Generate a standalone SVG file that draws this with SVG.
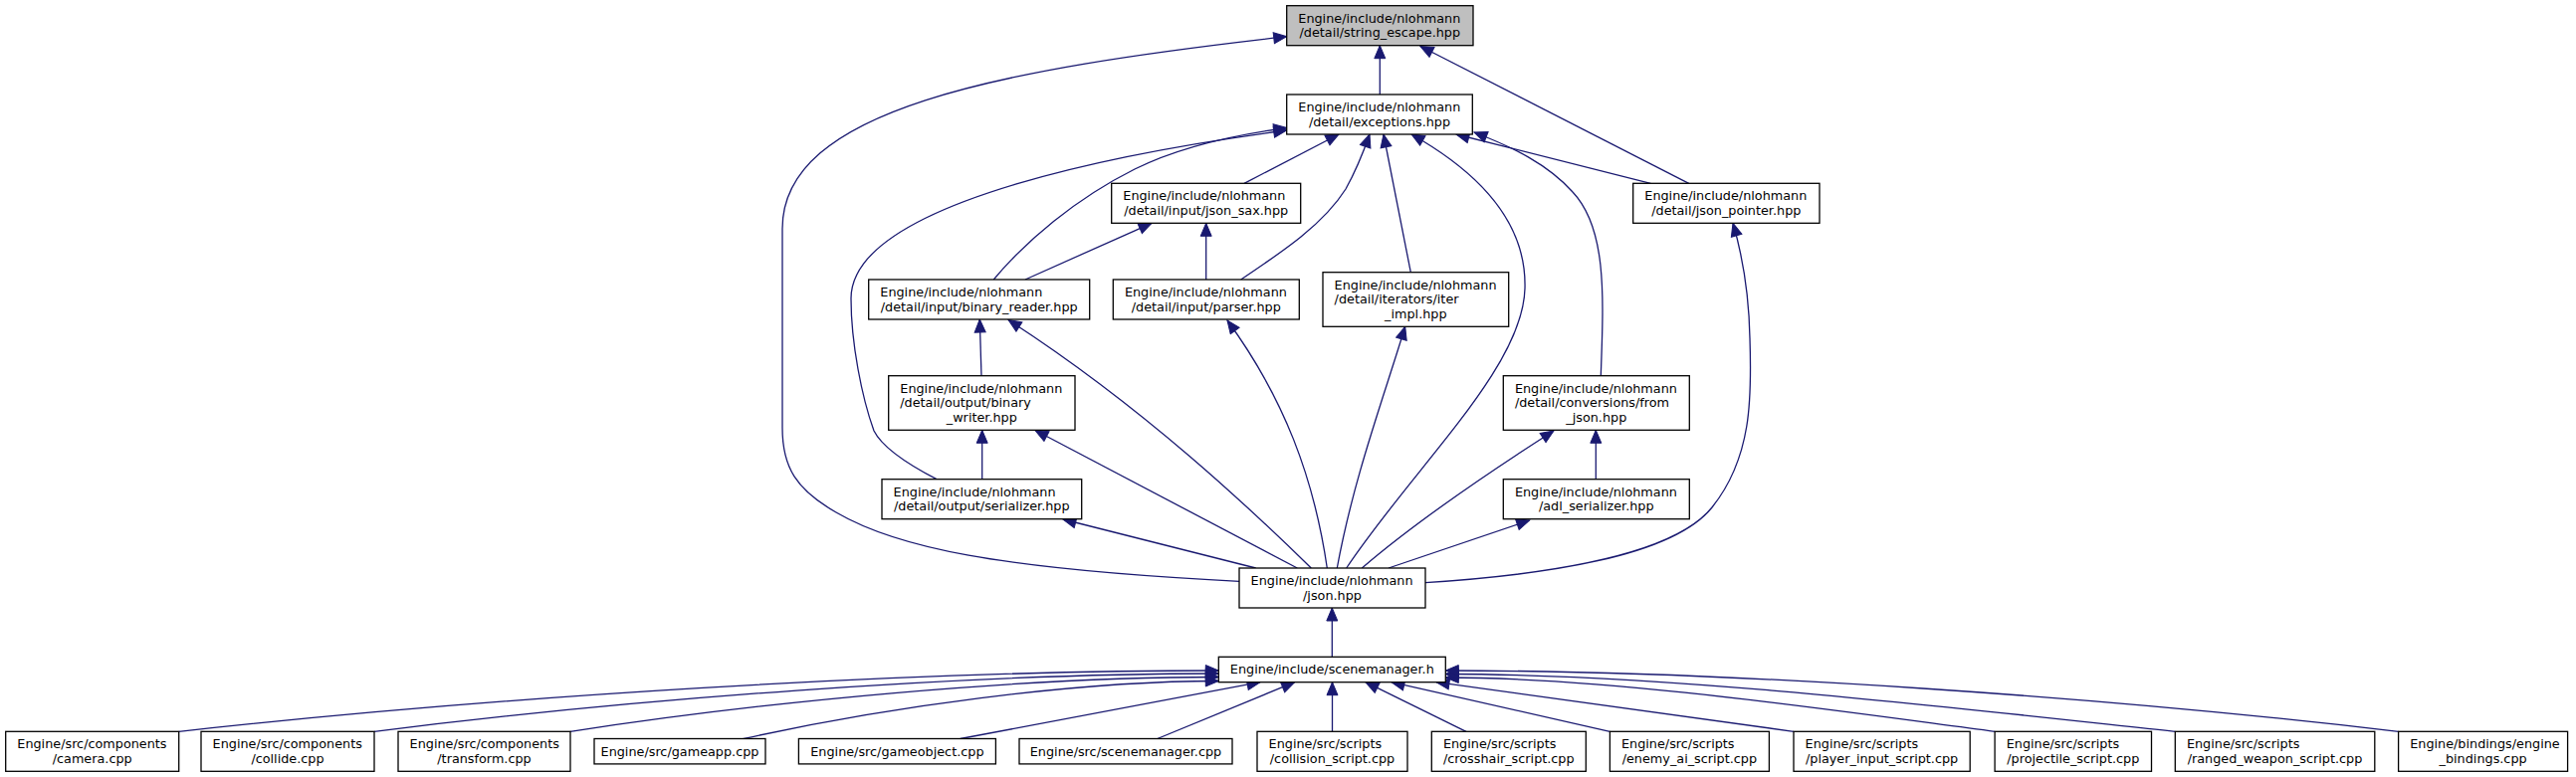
<svg xmlns="http://www.w3.org/2000/svg" width="2588" height="781" viewBox="0 0 2588 781">
<style>
rect{fill:#fff;stroke:#000;stroke-width:1.3}
.root rect{fill:#bfbfbf}
text{font-family:"DejaVu Sans","Liberation Sans",sans-serif;font-size:12.8px;fill:#000}
.m{text-anchor:middle}
#edges path{fill:none;stroke:#191970;stroke-width:1.3;marker-end:url(#ah)}
</style>
<defs>
<marker id="ah" markerUnits="userSpaceOnUse" markerWidth="15" markerHeight="13" viewBox="0 0 15 13" refX="14" refY="6.5" orient="auto">
<path d="M1,1 L14,6.5 L1,12 Z" fill="#191970" stroke="#191970" stroke-width="1"/>
</marker>
</defs>
<rect x="0" y="0" width="2588" height="781" style="fill:#fff;stroke:none"/>
<g id="edges">
<path d="M1386.3,95 L1386.3,45.7"/>
<path d="M1696.7,184.3 L1427,46.5"/>
<path d="M1245,584.3 C1000,572 900,550 840,515 C800,492 786,470 786,430 L786,230 C786,110 1000,70 1292.7,36.7"/>
<path d="M1250,184.3 L1345,135"/>
<path d="M998.3,281 C1030,243 1080,200 1140,170 C1180,150 1230,137 1292.7,128.5"/>
<path d="M1246.7,281 C1290,252 1330,225 1352,190 C1362,172 1369,155 1376,135"/>
<path d="M1417.3,273.7 L1390,135"/>
<path d="M1352.7,571 C1420,470 1530,370 1532,290 C1534,220 1480,170 1418,135"/>
<path d="M1608.3,377.7 C1611,300 1615,230 1580,193 C1555,165 1520,148 1481,133"/>
<path d="M1658.3,184.3 L1463,135"/>
<path d="M941,481.7 C905,463 885,447 878,433 C866,400 855,345 855,300 C855,200 1150,150 1292.7,131"/>
<path d="M1030,281 L1157,224.3"/>
<path d="M1211.7,281 L1211.7,224.3"/>
<path d="M986,377.7 L984.3,321"/>
<path d="M1317.3,571 C1260,515 1150,410 1013,321.5"/>
<path d="M1333.3,571 C1320,480 1290,400 1233,322"/>
<path d="M1343.3,571 C1360,480 1390,400 1411.7,328.3"/>
<path d="M986.7,481.7 L986.7,432.3"/>
<path d="M1303.3,571 L1040,432.5"/>
<path d="M1603.3,481.7 L1603.3,432.3"/>
<path d="M1368.3,571 C1410,535 1480,485 1561,433"/>
<path d="M1261.7,571 L1068,522"/>
<path d="M1395,571 L1536.7,523"/>
<path d="M1432,585.7 C1550,578 1680,560 1720,510 C1760,460 1760,400 1758,340 C1757,290 1750,255 1741,224.3"/>
<path d="M1338.3,660.3 L1338.3,611"/>
<path d="M179.7,735.3 C493,700.5 911,674 1224.3,674"/>
<path d="M376,735.3 C630.5,703.1 969.8,677 1224.3,677"/>
<path d="M572.9,735.3 C768.3,705 1028.9,680.5 1224.3,680.5"/>
<path d="M746.2,742.7 C889.6,710.7 1080.9,684.5 1224.3,684.5"/>
<path d="M964.8,742.5 L1266,685.7"/>
<path d="M1162.8,742.5 L1300.6,685.7"/>
<path d="M1338.5,735.3 L1338.5,685.7"/>
<path d="M1473,735.3 L1372,685.7"/>
<path d="M1617.4,735.3 L1398,685.7"/>
<path d="M1802,735.3 L1443,685.7"/>
<path d="M2004.1,735.3 C1838.6,713.6 1617.8,681 1452.3,681"/>
<path d="M2185.3,735.3 C1943.4,709.3 1672.2,677.5 1452.3,677.5"/>
<path d="M2409.6,735.3 C2122.4,701.6 1742.5,674 1452.3,674"/>
</g>
<g id="n_string_escape" class="root"><rect x="1292.7" y="5.7" width="187.3" height="40"/><text x="1304.3" y="22.7">Engine/include/nlohmann</text><text class="m" x="1386.3" y="37.3">/detail/string_escape.hpp</text></g>
<g id="n_exceptions"><rect x="1292.7" y="95" width="186.6" height="40"/><text x="1304.3" y="112">Engine/include/nlohmann</text><text class="m" x="1386" y="126.6">/detail/exceptions.hpp</text></g>
<g id="n_json_sax"><rect x="1116.7" y="184.3" width="190" height="40"/><text x="1128.3" y="201.3">Engine/include/nlohmann</text><text class="m" x="1211.7" y="215.9">/detail/input/json_sax.hpp</text></g>
<g id="n_json_pointer"><rect x="1640.7" y="184.3" width="187.3" height="40"/><text x="1652.3" y="201.3">Engine/include/nlohmann</text><text class="m" x="1734.3" y="215.9">/detail/json_pointer.hpp</text></g>
<g id="n_binary_reader"><rect x="872.7" y="281" width="222" height="40"/><text x="884.3" y="298">Engine/include/nlohmann</text><text class="m" x="983.7" y="312.6">/detail/input/binary_reader.hpp</text></g>
<g id="n_parser"><rect x="1118.3" y="281" width="187" height="40"/><text x="1129.9" y="298">Engine/include/nlohmann</text><text class="m" x="1211.8" y="312.6">/detail/input/parser.hpp</text></g>
<g id="n_iter_impl"><rect x="1329" y="273.7" width="186.7" height="54.6"/><text x="1340.6" y="290.6">Engine/include/nlohmann</text><text x="1340.6" y="305.2">/detail/iterators/iter</text><text class="m" x="1422.3" y="319.8">_impl.hpp</text></g>
<g id="n_binary_writer"><rect x="892.7" y="377.7" width="187.3" height="54.6"/><text x="904.3" y="394.6">Engine/include/nlohmann</text><text x="904.3" y="409.2">/detail/output/binary</text><text class="m" x="986.3" y="423.8">_writer.hpp</text></g>
<g id="n_from_json"><rect x="1510.3" y="377.7" width="187" height="54.6"/><text x="1521.9" y="394.6">Engine/include/nlohmann</text><text x="1521.9" y="409.2">/detail/conversions/from</text><text class="m" x="1603.8" y="423.8">_json.hpp</text></g>
<g id="n_serializer"><rect x="886" y="481.7" width="200.7" height="40"/><text x="897.6" y="498.7">Engine/include/nlohmann</text><text class="m" x="986.3" y="513.3">/detail/output/serializer.hpp</text></g>
<g id="n_adl_serializer"><rect x="1510.3" y="481.7" width="187" height="40"/><text x="1521.9" y="498.7">Engine/include/nlohmann</text><text class="m" x="1603.8" y="513.3">/adl_serializer.hpp</text></g>
<g id="n_json"><rect x="1245" y="571" width="187" height="40"/><text x="1256.6" y="588">Engine/include/nlohmann</text><text class="m" x="1338.5" y="602.6">/json.hpp</text></g>
<g id="n_scenemanager_h"><rect x="1224.3" y="660.3" width="228" height="25.4"/><text class="m" x="1338.3" y="677.3">Engine/include/scenemanager.h</text></g>
<g id="n_camera"><rect x="5.7" y="735.3" width="174" height="40"/><text x="17.3" y="752.3">Engine/src/components</text><text class="m" x="92.7" y="766.9">/camera.cpp</text></g>
<g id="n_collide"><rect x="202" y="735.3" width="174" height="40"/><text x="213.6" y="752.3">Engine/src/components</text><text class="m" x="289" y="766.9">/collide.cpp</text></g>
<g id="n_transform"><rect x="400" y="735.3" width="173" height="40"/><text x="411.6" y="752.3">Engine/src/components</text><text class="m" x="486.5" y="766.9">/transform.cpp</text></g>
<g id="n_gameapp"><rect x="597" y="742.5" width="172" height="25.4"/><text class="m" x="683" y="759.5">Engine/src/gameapp.cpp</text></g>
<g id="n_gameobject"><rect x="802.4" y="742.5" width="198" height="25.4"/><text class="m" x="901.4" y="759.5">Engine/src/gameobject.cpp</text></g>
<g id="n_scenemanager_cpp"><rect x="1024" y="742.5" width="214" height="25.4"/><text class="m" x="1131" y="759.5">Engine/src/scenemanager.cpp</text></g>
<g id="n_collision"><rect x="1263" y="735.3" width="151" height="40"/><text x="1274.6" y="752.3">Engine/src/scripts</text><text class="m" x="1338.5" y="766.9">/collision_script.cpp</text></g>
<g id="n_crosshair"><rect x="1438.3" y="735.3" width="155" height="40"/><text x="1449.9" y="752.3">Engine/src/scripts</text><text class="m" x="1515.8" y="766.9">/crosshair_script.cpp</text></g>
<g id="n_enemy_ai"><rect x="1617.4" y="735.3" width="160" height="40"/><text x="1629" y="752.3">Engine/src/scripts</text><text class="m" x="1697.4" y="766.9">/enemy_ai_script.cpp</text></g>
<g id="n_player_input"><rect x="1802" y="735.3" width="177.2" height="40"/><text x="1813.6" y="752.3">Engine/src/scripts</text><text class="m" x="1890.6" y="766.9">/player_input_script.cpp</text></g>
<g id="n_projectile"><rect x="2004.1" y="735.3" width="157.4" height="40"/><text x="2015.7" y="752.3">Engine/src/scripts</text><text class="m" x="2082.8" y="766.9">/projectile_script.cpp</text></g>
<g id="n_ranged_weapon"><rect x="2185.3" y="735.3" width="200.5" height="40"/><text x="2196.9" y="752.3">Engine/src/scripts</text><text class="m" x="2285.5" y="766.9">/ranged_weapon_script.cpp</text></g>
<g id="n_engine_bindings"><rect x="2409.6" y="735.3" width="170" height="40"/><text x="2421.2" y="752.3">Engine/bindings/engine</text><text class="m" x="2494.6" y="766.9">_bindings.cpp</text></g>
</svg>
